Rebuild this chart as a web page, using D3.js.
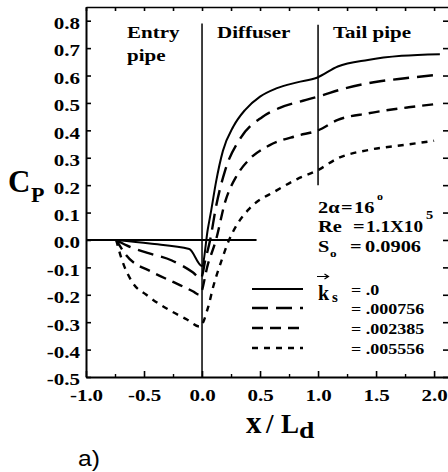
<!DOCTYPE html>
<html>
<head>
<meta charset="utf-8">
<script src="https://cdn.jsdelivr.net/npm/d3@7"></script>
<style>
  body { margin: 0; background: #fff; }
  svg { display: block; }
  .serif { font-family: "Liberation Serif", Tinos, "Times New Roman", "DejaVu Serif", serif; font-weight: bold; }
  .sans { font-family: "Liberation Sans", Arimo, Arial, sans-serif; }
</style>
</head>
<body>
<svg id="chart" width="448" height="472"></svg>
<script>
// Axis ticks
const xTicks = [-1.0, -0.5, 0.0, 0.5, 1.0, 1.5, 2.0];
const xMinorTicks = [-0.75, -0.25, 0.25, 0.75, 1.25, 1.75];
const yTicks = [-0.5, -0.4, -0.3, -0.2, -0.1, 0.0, 0.1, 0.2, 0.3, 0.4, 0.5, 0.6, 0.7, 0.8];

// Roughness values (legend) and section names
const ksLabels = [".0", ".000756", ".002385", ".005556"];
const sectionNames = ["Entry", "pipe", "Diffuser", "Tail pipe"];

// Pressure coefficient along x/Ld, one series per roughness
const xKs0 = [-0.74, -0.45, -0.11, 0.0, 0.05, 0.08, 0.12, 0.18, 0.27, 0.37, 0.5, 0.64, 0.82, 0.99, 1.17, 1.43, 1.72, 2.05];
const cpKs0 = [0.0, -0.013, -0.033, -0.095, 0.04, 0.11, 0.21, 0.325, 0.414, 0.474, 0.523, 0.553, 0.575, 0.592, 0.633, 0.657, 0.672, 0.678];

const xKs1 = [-0.74, -0.65, -0.47, -0.26, -0.08, -0.01, 0.03, 0.07, 0.12, 0.2, 0.33, 0.52, 0.67, 0.87, 1.0, 1.23, 1.52, 1.75, 2.02];
const cpKs1 = [0.0, -0.02, -0.047, -0.075, -0.118, -0.14, -0.07, 0.0, 0.12, 0.255, 0.371, 0.449, 0.482, 0.508, 0.523, 0.553, 0.578, 0.59, 0.602];

const xKs2 = [-0.74, -0.655, -0.43, -0.24, -0.08, -0.02, 0.05, 0.12, 0.2, 0.3, 0.41, 0.58, 0.82, 1.0, 1.17, 1.43, 1.78, 2.0];
const cpKs2 = [0.0, -0.055, -0.117, -0.155, -0.187, -0.2, -0.09, 0.0, 0.14, 0.235, 0.295, 0.345, 0.38, 0.40, 0.438, 0.462, 0.484, 0.495];

const xKs3 = [-0.74, -0.70, -0.60, -0.48, -0.26, -0.13, -0.02, 0.054, 0.097, 0.17, 0.227, 0.3, 0.41, 0.64, 0.82, 1.0, 1.17, 1.43, 1.75, 2.0];
const cpKs3 = [0.0, -0.06, -0.155, -0.20, -0.261, -0.29, -0.316, -0.243, -0.17, -0.073, -0.006, 0.055, 0.115, 0.18, 0.222, 0.255, 0.298, 0.328, 0.347, 0.362];

const seriesX = [xKs0, xKs1, xKs2, xKs3];
const seriesCp = [cpKs0, cpKs1, cpKs2, cpKs3];
const dashes = [null, "16,8", "11,7", "6,6"];
const widths = [2, 2.4, 2.4, 2.4];

const SX = 1.2; // horizontal stretch of the lettering

const svg = d3.select("#chart");
const x = d3.scaleLinear().domain([-1.0, 2.12]).range([86, 448]);
const y = d3.scaleLinear().domain([-0.5, 0.85]).range([377, 7]);

const fmt = d => d3.format(".1f")(d).replace("\u2212", "-");

function styleAxis(g, fontSize) {
  g.attr("font-family", null).attr("font-size", null);
  g.select(".domain").attr("stroke", "#000").attr("stroke-width", 2);
  g.selectAll(".tick line").attr("stroke", "#000").attr("stroke-width", 1.6);
  g.selectAll(".tick text")
    .attr("class", "serif")
    .attr("fill", "#000")
    .style("font-size", fontSize + "px");
}

// left axis
const gl = svg.append("g").attr("transform", `translate(${x(-1)},0)`)
  .call(d3.axisLeft(y).tickValues(yTicks).tickSizeInner(-5).tickSizeOuter(0).tickPadding(5).tickFormat(fmt));
styleAxis(gl, 17.5);
gl.selectAll(".tick text").attr("dy", "0.45em").attr("transform", `scale(${SX},1)`);

// bottom axis
const gb = svg.append("g").attr("transform", `translate(0,${y(-0.5)})`)
  .call(d3.axisBottom(x).tickValues(xTicks).tickSizeInner(-6).tickSizeOuter(0).tickPadding(11.5).tickFormat(fmt));
styleAxis(gb, 17.5);
gb.selectAll(".tick text").attr("transform", `scale(${SX},1)`);
svg.append("g").attr("transform", `translate(0,${y(-0.5)})`)
  .call(d3.axisBottom(x).tickValues(xMinorTicks).tickSizeInner(-3).tickSizeOuter(0).tickFormat(""))
  .call(g => { g.select(".domain").remove(); g.selectAll("line").attr("stroke", "#000").attr("stroke-width", 1.4); });

// top frame
const gt = svg.append("g").attr("transform", `translate(0,${y(0.85)})`)
  .call(d3.axisTop(x).tickValues(xTicks.concat(xMinorTicks)).tickSizeInner(-4).tickSizeOuter(0).tickFormat(""));
styleAxis(gt, 10);
gt.select(".domain").attr("stroke-width", 1.6);

// right frame ticks
svg.append("g").attr("transform", `translate(${x(2.12)},0)`)
  .call(d3.axisRight(y).tickValues(yTicks).tickSizeInner(-5).tickSizeOuter(0).tickFormat(""))
  .call(g => { g.select(".domain").remove(); g.selectAll("line").attr("stroke", "#000").attr("stroke-width", 1.6); });

// reference lines: section boundaries and Cp = 0
svg.append("line").attr("x1", x(0)).attr("x2", x(0)).attr("y1", y(0.79)).attr("y2", y(-0.5))
  .attr("stroke", "#000").attr("stroke-width", 1.5);
svg.append("line").attr("x1", x(1)).attr("x2", x(1)).attr("y1", y(0.785)).attr("y2", y(0.2))
  .attr("stroke", "#000").attr("stroke-width", 1.5);
svg.append("line").attr("x1", x(-1)).attr("x2", x(0.47)).attr("y1", y(0)).attr("y2", y(0))
  .attr("stroke", "#000").attr("stroke-width", 2);

// curves
const line = d3.line().x(d => x(d[0])).y(d => y(d[1])).curve(d3.curveMonotoneX);
seriesX.forEach((xs, i) => {
  const pts = xs.map((v, j) => [v, seriesCp[i][j]]);
  svg.append("path").datum(pts)
    .attr("d", line)
    .attr("fill", "none")
    .attr("stroke", "#000")
    .attr("stroke-width", widths[i])
    .attr("stroke-dasharray", dashes[i]);
});

// stretched text helper
function label(px, py, size, sx, cls) {
  return svg.append("g").attr("transform", `translate(${px},${py}) scale(${sx},1)`)
    .append("text")
    .attr("class", cls || "serif")
    .attr("fill", "#000")
    .style("font-size", size + "px");
}

// section labels
label(127, 38, 17.5, SX).text(sectionNames[0]);
label(127, 61, 17.5, SX).text(sectionNames[1]);
label(217, 38, 17.5, SX).text(sectionNames[2]);
label(333, 38, 17.5, SX).text(sectionNames[3]);

// axis titles
label(8, 192, 31, 1).text("C");
label(31, 202, 22, 1).text("P");
label(246, 433, 31, 1).text("x");
label(266, 433, 27, 1).text("/");
label(281, 433, 27, 1).text("L");
label(299, 438, 24, 1.15).text("d");

// flow parameters
label(318, 213, 17, SX).text("2\u03B1");
label(341, 213, 17, SX).text("=");
label(354, 213, 17, SX).text("16");
label(377, 200, 10, SX).text("o");
label(318, 232, 17, SX).text("Re");
label(353, 232, 17, SX).text("=");
label(366, 232, 16, SX).text("1.1X10");
label(426, 219, 12, SX).text("5");
label(318, 252, 17, SX).text("S");
label(330, 257, 11, SX).text("o");
label(350, 252, 17, SX).text("=");
label(365, 252, 17, SX).text("0.0906");

// legend
const legendY = [289, 308, 328, 348];
ksLabels.forEach((t, i) => {
  svg.append("line")
    .attr("x1", 252).attr("x2", 303)
    .attr("y1", legendY[i]).attr("y2", legendY[i])
    .attr("stroke", "#000").attr("stroke-width", widths[i])
    .attr("stroke-dasharray", dashes[i]);
  label(351, legendY[i] + 5.5, 15, SX).text("= " + t);
});
label(318, 300, 20, 1).text("k");
label(332, 302, 15, 1).text("s");
svg.append("path").attr("d", "M317,276.5H328M324.5,274L328.5,276.5L324.5,279")
  .attr("fill", "none").attr("stroke", "#000").attr("stroke-width", 1.2);

// panel tag
label(78, 466, 22, 1.12, "sans").text("a)");
</script>
</body>
</html>
